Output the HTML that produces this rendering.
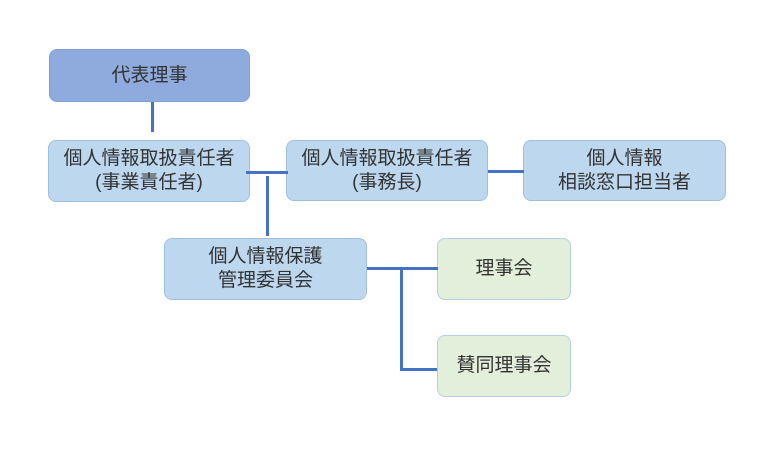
<!DOCTYPE html>
<html><head><meta charset="utf-8"><style>
body{margin:0;width:760px;height:451px;background:#fff;position:relative;overflow:hidden;font-family:"Liberation Sans","Noto Sans CJK JP",sans-serif;}
.b{position:absolute;box-sizing:border-box;border-radius:8px;display:flex;align-items:center;justify-content:center;text-align:center;font-size:19px;line-height:24px;color:#333;border:1px solid #9fbfe0;background:#bdd7ee;}
.t{background:#8faadc;border-color:#7f9fd6;}
.g{background:#e2efda;border-color:#b7cbe3;}
.l{position:absolute;background:#4472c4;}
</style></head><body>
<div class="b t" style="left:49px;top:49px;width:201px;height:53px;">代表理事</div>
<div class="b" style="left:48px;top:140px;width:202px;height:62px;">個人情報取扱責任者<br>(事業責任者)</div>
<div class="b" style="left:286px;top:140px;width:202px;height:61px;">個人情報取扱責任者<br>(事務長)</div>
<div class="b" style="left:523px;top:140px;width:203px;height:61px;">個人情報<br>相談窓口担当者</div>
<div class="b" style="left:164px;top:238px;width:203px;height:62px;">個人情報保護<br>管理委員会</div>
<div class="b g" style="left:437px;top:238px;width:134px;height:62px;">理事会</div>
<div class="b g" style="left:437px;top:335px;width:134px;height:62px;">賛同理事会</div>
<div class="l" style="left:151px;top:102px;width:3px;height:30px;"></div>
<div class="l" style="left:246px;top:171px;width:42px;height:3px;"></div>
<div class="l" style="left:266px;top:176px;width:3px;height:60px;"></div>
<div class="l" style="left:488px;top:170px;width:36px;height:3px;"></div>
<div class="l" style="left:367px;top:267px;width:71px;height:3px;"></div>
<div class="l" style="left:400px;top:267px;width:3px;height:104px;"></div>
<div class="l" style="left:400px;top:368px;width:37px;height:3px;"></div>
</body></html>
